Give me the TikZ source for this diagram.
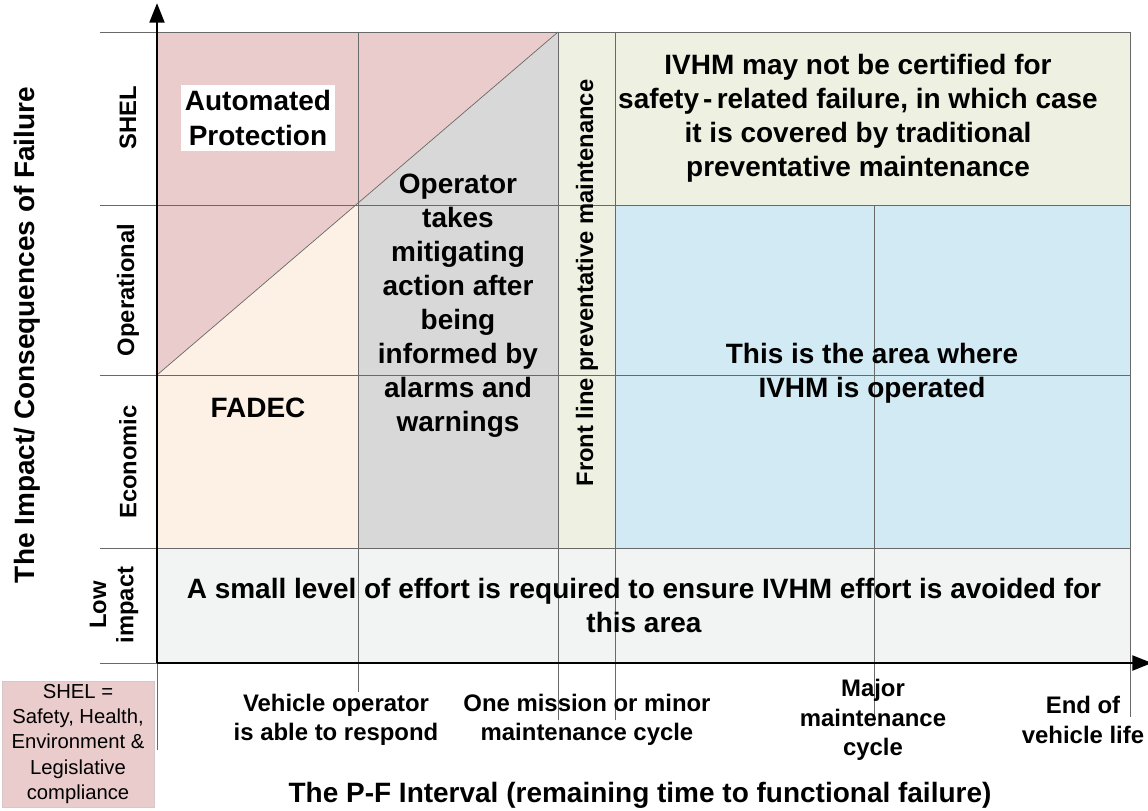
\documentclass[tikz,border=0pt]{standalone}
\usepackage{fontspec}
\setmainfont{Liberation Sans}
\usepackage{tikz}
\usetikzlibrary{arrows.meta, positioning, calc}

\definecolor{protpink}{RGB}{234, 204, 204}
\definecolor{fadecpeach}{RGB}{253, 241, 230}
\definecolor{opgray}{RGB}{216, 216, 216}
\definecolor{prevgreen}{RGB}{238, 240, 225}
\definecolor{ivhmblue}{RGB}{210, 234, 243}
\definecolor{lowgray}{RGB}{242, 243, 243}
\definecolor{gridgray}{RGB}{105, 105, 105}

\begin{document}
\begin{tikzpicture}[x=0.025cm, y=-0.025cm,
  bigtext/.style={font=\bfseries\fontsize{19.9}{24.2}\selectfont, align=center, inner sep=0pt},
  ticktext/.style={font=\bfseries\fontsize{17}{21}\selectfont, align=center, inner sep=0pt},
  rowlabel/.style={font=\bfseries\fontsize{16.9}{19.5}\selectfont, align=center, rotate=90, inner sep=0pt},
  gridline/.style={draw=gridgray, line width=0.7pt},
  axisline/.style={draw=black, line width=2.1pt, -{Triangle[length=14pt, width=10.5pt]}}]
  \useasboundingbox (0,0) rectangle (1148,810);

  % Coloured regions
  \fill[lowgray] (157,548) rectangle (1130,663);
  \fill[ivhmblue] (615,205) rectangle (1130,548);
  \fill[prevgreen] (558,32) rectangle (1130,205);
  \fill[prevgreen] (558,205) rectangle (615,548);
  \fill[fadecpeach] (157,375) -- (358,203) -- (358,548) -- (157,548) -- cycle;
  \fill[opgray] (358,203) -- (558,32) -- (558,548) -- (358,548) -- cycle;
  \fill[protpink] (157,32) -- (558,32) -- (157,375) -- cycle;

  % Grid
  \foreach \y in {32, 205, 375, 548}
    \draw[gridline] (100,\y) -- (1130,\y);
  \draw[gridline] (100,663) -- (157,663);
  \draw[gridline] (157,663) -- (157,750);
  \draw[gridline] (358,32) -- (358,692);
  \draw[gridline] (558,32) -- (558,720);
  \draw[gridline] (615,32) -- (615,720);
  \draw[gridline] (874,205) -- (874,725);
  \draw[gridline] (1130,32) -- (1130,717);
  \draw[draw=gridgray, line width=0.5pt] (157,375) -- (558,32);

  % Axes
  \coordinate (origin) at (157,663);
  \coordinate (ytop) at (157,3);
  \coordinate (xend) at (1152,663);
  \draw[axisline] (origin) -- (ytop);
  \draw[axisline] (origin) -- (xend);

  % Region texts
  \node[bigtext, fill=white, inner xsep=3pt, inner ysep=4pt] (autoprot) at (258,118) {Automated\\Protection};
  \node[bigtext] (fadec) at (258,408) {FADEC};
  \node[bigtext] (operator) at (458,306) {Operator\\takes\\mitigating\\action after\\being\\informed by\\alarms and\\warnings};
  \node[bigtext] (certified) at (858,118) {IVHM may not be certified for\\safety\hspace{0.15em}-\hspace{0.15em}related failure, in which case\\it is covered by traditional\\preventative maintenance};
  \node[bigtext] (ivhmarea) at (872,373) {This is the area where\\IVHM is operated};
  \node[bigtext] (lowtext) at (644,605) {A small level of effort is required to ensure IVHM effort is avoided for\\this area};
  \node[rowlabel] (frontline) at (587,283) {Front line preventative maintenance};

  % Impact levels
  \node[rowlabel] (shel) at (128,118) {SHEL};
  \node[rowlabel] (operational) at (128,290) {Operational};
  \node[rowlabel] (economic) at (128,462) {Economic};
  \node[rowlabel] (lowimpact) at (114,605) {Low\\impact};

  % Time labels
  \node[ticktext] (respond) at (336,720) {Vehicle operator\\is able to respond};
  \node[ticktext] (mission) at (587,720) {One mission or minor\\maintenance cycle};
  \node[ticktext] (major) at (873,720) {Major\\maintenance\\cycle};
  \node[ticktext] (endlife) at (1083,720) {End of\\vehicle life};

  % Axis titles
  \node[bigtext, rotate=90] (ytitle) at (27,335) {The Impact/ Consequences of Failure};
  \node[bigtext] (xtitle) at (640,795) {The P-F Interval (remaining time to functional failure)};

  % Key
  \node[draw=protpink!80!black!60, fill=protpink, minimum width=3.8cm, minimum height=3.15cm, align=center, inner sep=0pt, font=\fontsize{14.4}{17.8}\selectfont] (shelkey) at (78,744) {SHEL =\\Safety, Health,\\Environment \&\\Legislative\\compliance};
\end{tikzpicture}
\end{document}
